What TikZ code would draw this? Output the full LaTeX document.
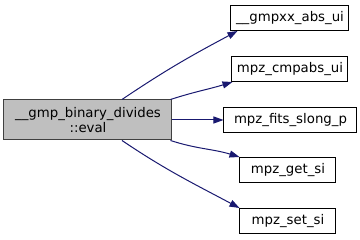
\documentclass[tikz,border=0pt]{standalone}
\usepackage{fontspec}
\setmainfont{DejaVu Sans}
\usetikzlibrary{arrows.meta}
\definecolor{edgeblue}{HTML}{191970}
\definecolor{mainfill}{HTML}{BFBFBF}
\definecolor{mainline}{HTML}{404040}
\begin{document}
\begin{tikzpicture}[x=1pt,y=1pt,
  fn/.style={draw=black, fill=white, line width=1pt, inner sep=0pt,
    minimum height=25pt, font=\fontsize{13.3}{15.3}\selectfont},
  focus/.style={fn, draw=mainline, fill=mainfill, align=center,
    minimum width=168pt, minimum height=40pt},
  call/.style={draw=edgeblue, line width=1pt,
    -{Triangle[length=10pt,width=7pt,fill=edgeblue]}}]
\useasboundingbox (0,0) rectangle (360,240);

% caller
\node[focus] (m) at (88,120) {\_\_gmp\_binary\_divides\\::eval};

% callees
\node[fn, minimum width=118pt] (b1) at (290,222) {\_\_gmpxx\_abs\_ui};
\node[fn, minimum width=116pt] (b2) at (290,171) {mpz\_cmpabs\_ui};
\node[fn, minimum width=133pt] (b3) at (290.5,120) {mpz\_fits\_slong\_p};
\node[fn, minimum width=96pt] (b4) at (288,70) {mpz\_get\_si};
\node[fn, minimum width=96pt] (b5) at (288,19) {mpz\_set\_si};

% calls
\draw[call] ([xshift=34pt]m.north) to[out=34,in=208] ([xshift=7pt]b1.south west);
\draw[call] ([xshift=-2pt]m.north east) to[out=18,in=197] ([xshift=1pt]b2.south west);
\draw[call] (m.east) -- (b3.west);
\draw[call] ([xshift=-2pt]m.south east) to[out=-18,in=163] (b4.north west);
\draw[call] ([xshift=34pt]m.south) to[out=-34,in=152] (b5.north west);
\end{tikzpicture}
\end{document}
